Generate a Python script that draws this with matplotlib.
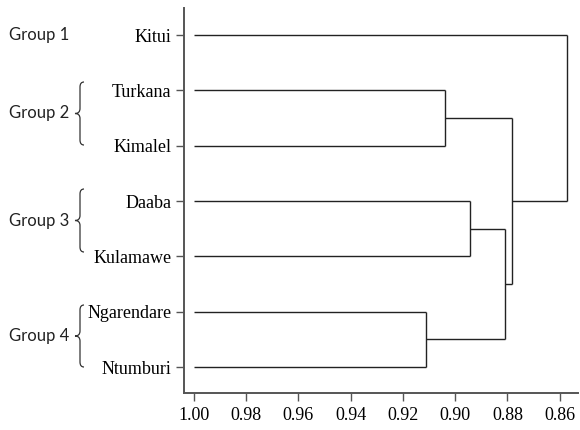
import matplotlib
matplotlib.use("Agg")
import matplotlib.pyplot as plt
from matplotlib.path import Path
from matplotlib.patches import PathPatch

# Data
leaves = ["Kitui", "Turkana", "Kimalel", "Daaba", "Kulamawe", "Ngarendare", "Ntumburi"]
# merges: (child a, child b), leaves 0..6, new clusters numbered from 7
merge_pairs = [(1, 2), (3, 4), (5, 6), (8, 9), (7, 10), (0, 11)]
merge_heights = [0.904, 0.8945, 0.911, 0.881, 0.8782, 0.8571]
leaf_value = 1.00
x_ticks = [1.00, 0.98, 0.96, 0.94, 0.92, 0.90, 0.88, 0.86]
groups = ["Group 1", "Group 2", "Group 3", "Group 4"]
group_has_brace = [False, True, True, True]

plt.rcParams["font.family"] = ["Liberation Serif", "DejaVu Serif"]

fig = plt.figure(figsize=(5.8, 4.3), dpi=100)
ax = fig.add_axes([184 / 580, 1 - 393 / 430, 394 / 580, 385 / 430])

line_kw = dict(color="#222222", lw=1.0, solid_capstyle="butt")
node_y = {i: float(i) for i in range(len(leaves))}
node_x = {i: leaf_value for i in range(len(leaves))}
for k, ((a, b), h) in enumerate(zip(merge_pairs, merge_heights)):
    for c in (a, b):
        ax.plot([node_x[c], h], [node_y[c], node_y[c]], **line_kw)
    ax.plot([h, h], [node_y[a], node_y[b]], **line_kw)
    nid = len(leaves) + k
    node_y[nid] = (node_y[a] + node_y[b]) / 2
    node_x[nid] = h

ax.set_xlim(1.0038, 0.853)
ax.set_ylim(6.47, -0.49)
ax.set_yticks(range(len(leaves)))
ax.set_yticklabels(leaves)
ax.set_xticks(x_ticks)
ax.set_xticklabels([f"{v:.2f}" for v in x_ticks])
ax.tick_params(labelsize=13, length=6, width=1, color="#555555", pad=3)
ax.tick_params(axis="x", pad=4)
for s in ("top", "right"):
    ax.spines[s].set_visible(False)
for s in ("left", "bottom"):
    ax.spines[s].set_color("#555555")
    ax.spines[s].set_linewidth(1.4)

# overlay in pixel coordinates for group labels and braces
ov = fig.add_axes([0, 0, 1, 1])
ov.set_xlim(0, 580)
ov.set_ylim(430, 0)
ov.axis("off")

group_y = [35, 113, 221, 336]
brace_span = [None, (82, 145), (189, 252), (305, 367)]


def brace(y0, y1, x=80, curl=4, tip=5):
    ym = (y0 + y1) / 2
    r = 5
    verts = [(x + curl, y0), (x, y0), (x, y0 + r),
             (x, ym - r), (x, ym), (x - tip, ym),
             (x, ym), (x, ym + r),
             (x, y1 - r), (x, y1), (x + curl, y1)]
    codes = [Path.MOVETO, Path.CURVE3, Path.CURVE3,
             Path.LINETO, Path.CURVE3, Path.CURVE3,
             Path.CURVE3, Path.CURVE3,
             Path.LINETO, Path.CURVE3, Path.CURVE3]
    ov.add_patch(PathPatch(Path(verts, codes), fill=False, lw=0.9, edgecolor="#333333"))


for name, yc, has, span in zip(groups, group_y, group_has_brace, brace_span):
    ov.text(9, yc, name, family=["Lato", "DejaVu Sans"], fontsize=12,
            ha="left", va="center", color="#222222")
    if has:
        brace(*span)

fig.savefig("out.png", dpi=100)
